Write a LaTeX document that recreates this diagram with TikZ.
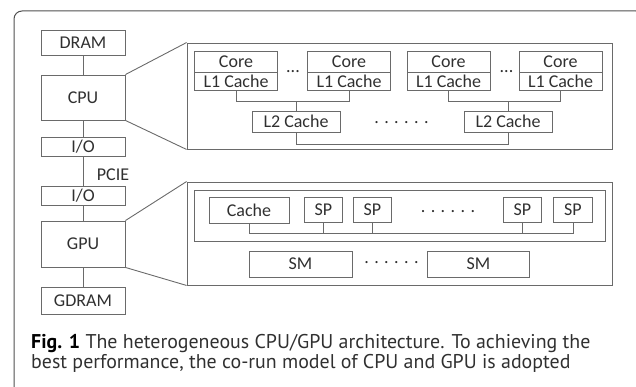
\documentclass[tikz,border=0pt]{standalone}
\usepackage{fontspec}
\setmainfont{Carlito}
\newfontfamily\capfont{PT Sans}
\definecolor{linec}{HTML}{6A6A6A}
\definecolor{txtc}{HTML}{303030}
\definecolor{framec}{HTML}{505050}
\begin{document}
\begin{tikzpicture}[x=1pt,y=-1pt,
  box/.style={draw=linec, line width=0.9pt, inner sep=0pt, text=txtc, font=\fontsize{18}{21}\selectfont},
  conn/.style={draw=linec, line width=0.9pt},
  dotsnode/.style={inner sep=0pt, text=txtc, font=\fontsize{18}{21}\selectfont}]
\useasboundingbox (0,0) rectangle (636,387);
% outer frame
\draw[framec, line width=1pt, rounded corners=8pt] (14,400) -- (14,11) -- (644,11) -- (644,400);
% left column
\node[box, minimum width=84pt, minimum height=25pt] (dram) at (83,42.5) {DRAM};
\node[box, minimum width=84pt, minimum height=45pt] (cpu) at (83,97.5) {CPU};
\node[box, minimum width=84pt, minimum height=19pt] (io1) at (83,147) {I/O};
\node[dotsnode] (pcie) at (113,175) {PCIE};
\node[box, minimum width=84pt, minimum height=19.5pt] (io2) at (83,196) {I/O};
\node[box, minimum width=84pt, minimum height=46pt] (gpu) at (83,244) {GPU};
\node[box, minimum width=84pt, minimum height=27pt] (gdram) at (83,300.5) {GDRAM};
\draw[conn] (dram.south) -- (cpu.north);
\draw[conn] (cpu.south) -- (io1.north);
\draw[conn] (io1.south) -- (io2.north);
\draw[conn] (io2.south) -- (gpu.north);
\draw[conn] (gpu.south) -- (gdram.north);
% CPU zoom
\node[box, minimum width=425pt, minimum height=106pt] (cpuz) at (399.5,96) {};
\draw[conn] (cpu.north east) -- (cpuz.north west);
\draw[conn] (cpu.south east) -- (cpuz.south west);
\foreach \n/\x in {a/236, b/349, c/448.5, d/560.5}{
  \node[box, minimum width=83pt, minimum height=21pt] (core\n) at (\x,61.5) {Core};
  \node[box, minimum width=83pt, minimum height=18pt] (l1\n) at (\x,81) {L1 Cache};
}
\node[dotsnode] (dd1) at (293,71.5) {...};
\node[dotsnode] (dd2) at (506.5,71.5) {...};
\node[box, minimum width=88pt, minimum height=21pt] (l2a) at (296,121.5) {L2 Cache};
\node[box, minimum width=88pt, minimum height=21pt] (l2b) at (508,121.5) {L2 Cache};
\node[dotsnode] (dd3) at (401.5,123) {. . . . . .};
\coordinate (busA) at (0,101.5);
\coordinate (busC) at (0,144);
\draw[conn] (l1a.south) -- (l1a.south |- busA) -| (l1b.south);
\draw[conn] (l2a.north) -- (l2a.north |- busA);
\draw[conn] (l1c.south) -- (l1c.south |- busA) -| (l1d.south);
\draw[conn] (l2b.north) -- (l2b.north |- busA);
\draw[conn] (l2a.south) -- (l2a.south |- busC) -| (l2b.south);
% GPU zoom
\node[box, minimum width=425pt, minimum height=103pt] (gpuz) at (399.5,233.5) {};
\draw[conn] (gpu.north east) -- (gpuz.north west);
\draw[conn] (gpu.south east) -- (gpuz.south west);
\node[box, minimum width=411pt, minimum height=51pt] (smz) at (399.5,215.5) {};
\node[box, minimum width=80pt, minimum height=26pt] (cache) at (249,210) {Cache};
\foreach \n/\x in {1/323.5, 2/372.5, 3/522.5, 4/573}{
  \node[box, minimum width=38.5pt, minimum height=25pt] (sp\n) at (\x,209.5) {SP};
}
\node[dotsnode] (dd4) at (448,211.5) {. . . . . .};
\coordinate (busG) at (0,233);
\draw[conn] (cache.south) -- (cache.south |- busG) -| (sp4.south);
\draw[conn] (sp1.south) -- (sp1.south |- busG);
\draw[conn] (sp2.south) -- (sp2.south |- busG);
\draw[conn] (sp3.south) -- (sp3.south |- busG);
\node[box, minimum width=103pt, minimum height=26pt] (sm1) at (300.5,264) {SM};
\node[box, minimum width=102pt, minimum height=26pt] (sm2) at (478.5,264) {SM};
\node[dotsnode] (dd5) at (391.5,262.5) {. . . . . .};
% caption
\node[anchor=base west, inner sep=0pt, text=txtc, font=\capfont\fontsize{19.9}{23}\selectfont] (cap1) at (31,348) {\textbf{\color{black}Fig. 1} The heterogeneous CPU/GPU architecture. To achieving the};
\node[anchor=base west, inner sep=0pt, text=txtc, font=\capfont\fontsize{19.9}{23}\selectfont] (cap2) at (31,368) {best performance, the co-run model of CPU and GPU is adopted};
\end{tikzpicture}
\end{document}
